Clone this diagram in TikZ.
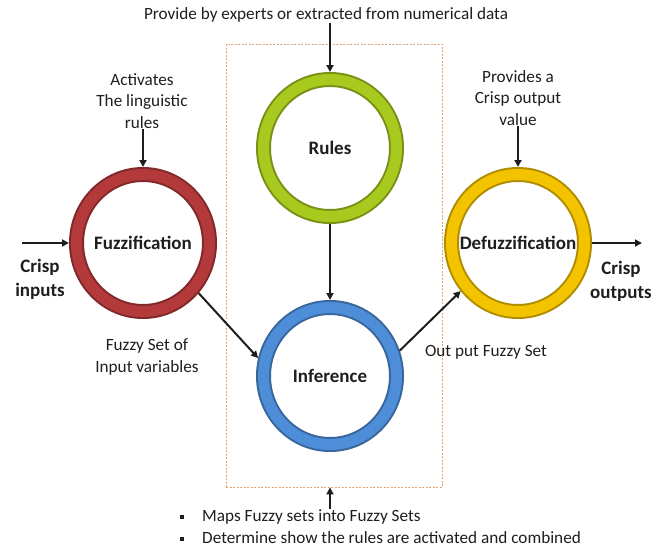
\documentclass[tikz,border=0pt]{standalone}
\usepackage{fontspec}
\setmainfont{Carlito}
\usetikzlibrary{shapes.geometric,arrows.meta}
\definecolor{inkblack}{HTML}{1E1E1E}
\definecolor{fuzzred}{HTML}{B3393B}
\definecolor{rulegreen}{HTML}{A8C91E}
\definecolor{infblue}{HTML}{4E8ED9}
\definecolor{defyellow}{HTML}{F4C300}
\definecolor{boxorange}{HTML}{E8A271}
\newcommand{\sqbullet}{\raisebox{3pt}{\rule{4pt}{4pt}}\hspace{18pt}}
\begin{document}
\begin{tikzpicture}[x=1pt,y=-1pt,
  txt/.style={font=\fontsize{17.2}{21.8}\selectfont, text=inkblack, align=center, inner sep=0pt},
  bigtxt/.style={font=\bfseries\fontsize{19}{24}\selectfont, text=inkblack, align=center, inner sep=0pt},
  ring/.style={ellipse, draw=#1!72!black, double=#1, double distance=11pt, line width=2pt,
    fill=white, minimum width=133pt, minimum height=137pt, inner sep=0pt, outer sep=7.5pt},
  ringlabel/.style={label={[bigtxt]center:#1}},
  arr/.style={draw=inkblack, line width=2pt, -{Triangle[length=7pt,width=7pt]}},
  dashbox/.style={draw=boxorange, dash pattern=on 2pt off 1.5pt, line width=0.8pt, inner sep=0pt}
]
\useasboundingbox (0,0) rectangle (670,550);

% frame round rules and inference
\node[dashbox, minimum width=216pt, minimum height=443pt] (frame) at (334,265.5) {};

% the four stages
\node[ring=fuzzred, ringlabel=Fuzzification] (fuzz) at (143,243) {};
\node[ring=rulegreen, ringlabel=Rules] (rules) at (330,148) {};
\node[ring=infblue, ringlabel=Inference] (inf) at (330,376) {};
\node[ring=defyellow, ringlabel=Defuzzification] (defuzz) at (518,243) {};

% texts
\node[txt] (provide) at (326,15) {Provide by experts or extracted from numerical data};
\node[txt] (activ) at (142,101) {Activates\\The linguistic\\rules};
\node[txt] (provides) at (518,98) {Provides a\\Crisp output\\value};
\node[bigtxt] (cin) at (40,279) {Crisp\\inputs};
\node[bigtxt] (cout) at (621,281) {Crisp\\outputs};
\node[txt] (fset) at (147,357) {Fuzzy Set of\\Input variables};
\node[txt] (oset) at (486,352) {Out put Fuzzy Set};
\node[txt, align=left, anchor=west] (maps) at (180,527)
  {\sqbullet Maps Fuzzy sets into Fuzzy Sets\\\sqbullet Determine show the rules are activated and combined};

\coordinate (inp) at (22,243);
\coordinate (outp) at (642,243);
\coordinate (mapsin) at (330,509);

% connectors
\draw[arr] (provide.south -| rules.north) -- (rules.north);
\draw[arr] (activ.south -| fuzz.north) -- (fuzz.north);
\draw[arr] (provides) -- (defuzz.north);
\draw[arr] (inp) -- (fuzz.west);
\draw[arr] (defuzz.east) -- (outp);
\draw[arr] (rules.south) -- (inf.north);
\draw[arr] (fuzz.-42) -- (inf.166);
\draw[arr] (inf.20) -- (defuzz.220);
\draw[arr] (mapsin) -- (mapsin |- frame.south);

\end{tikzpicture}
\end{document}
